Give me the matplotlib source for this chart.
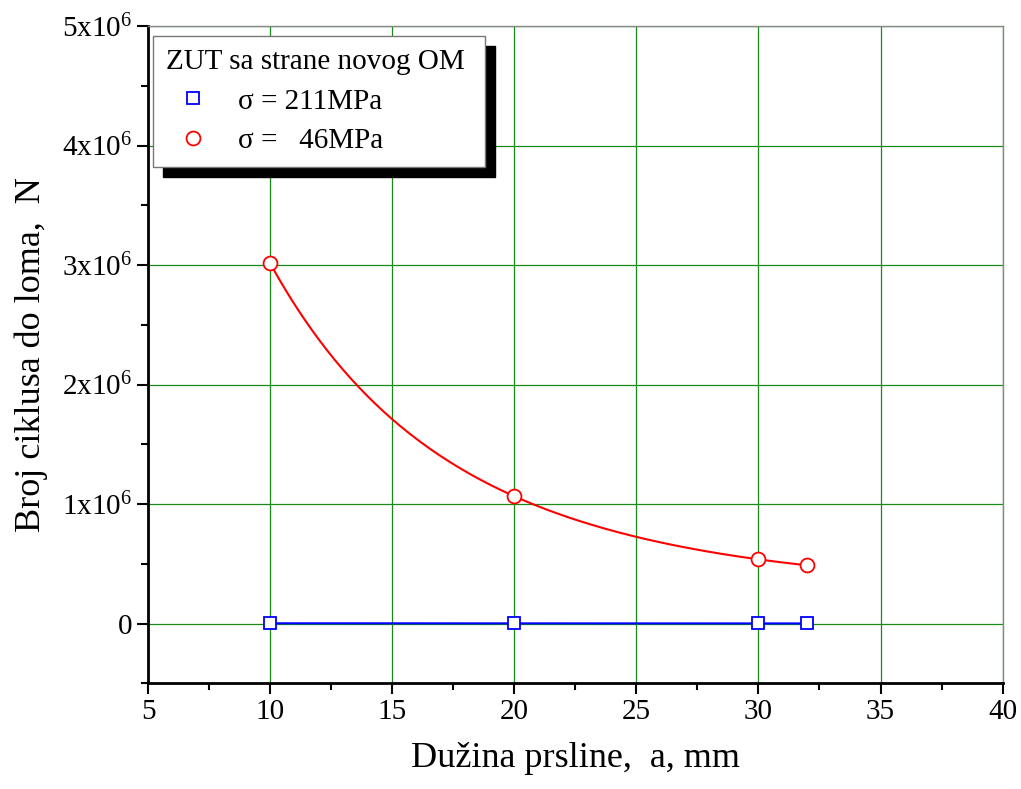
import numpy as np
import matplotlib.pyplot as plt
from matplotlib.ticker import MultipleLocator, FuncFormatter

plt.rcParams['font.family'] = ['Liberation Serif', 'DejaVu Serif']
plt.rcParams['mathtext.fontset'] = 'custom'
plt.rcParams['mathtext.rm'] = 'Liberation Serif'

# crack length, mm
a_mm = [10, 20, 30, 32]
# cycles to failure
n_211 = [2.0e3, 1.5e3, 1.0e3, 0.9e3]
n_46 = [3.015e6, 1.065e6, 0.537e6, 0.487e6]

legend_title = "ZUT sa strane novog OM "
labels = ["σ = 211MPa", "σ =   46MPa"]


def fmt_y(v, pos):
    if abs(v) < 1:
        return "0"
    k = int(round(v / 1e6))
    return r"$\mathregular{%dx10^{6}}$" % k


fig, ax = plt.subplots(figsize=(10.21, 7.89), dpi=100)
fig.subplots_adjust(left=0.145, right=0.982, top=0.967, bottom=0.134)

# smooth curve through the red points (log-space cubic)
coef = np.polyfit(a_mm, np.log(n_46), 3)
xs = np.linspace(min(a_mm), max(a_mm), 200)
ax.plot(xs, np.exp(np.polyval(coef, xs)), color='red', lw=1.5, zorder=3)
ax.plot(a_mm, n_211, color='blue', lw=1.5, zorder=3)

h1, = ax.plot(a_mm, n_211, ls='none', marker='s', ms=9, mfc='white',
              mec='blue', mew=1.3, zorder=4)
h2, = ax.plot(a_mm, n_46, ls='none', marker='o', ms=10, mfc='white',
              mec='red', mew=1.3, zorder=4)

ax.set_xlim(5, 40)
ax.set_ylim(-0.5e6, 5e6)
ax.xaxis.set_major_locator(MultipleLocator(5))
ax.xaxis.set_minor_locator(MultipleLocator(2.5))
ax.yaxis.set_major_locator(MultipleLocator(1e6))
ax.yaxis.set_minor_locator(MultipleLocator(0.5e6))
ax.yaxis.set_major_formatter(FuncFormatter(fmt_y))

ax.grid(True, which='major', color='#1a8a1a', lw=0.9)
ax.set_axisbelow(True)

for s in ['left', 'bottom']:
    ax.spines[s].set_linewidth(2)
    ax.spines[s].set_color('black')
for s in ['top', 'right']:
    ax.spines[s].set_linewidth(1)
    ax.spines[s].set_color('#888888')

ax.tick_params(which='major', direction='out', length=8, width=1.5,
               labelsize=21, top=False, right=False)
ax.tick_params(which='minor', direction='out', length=5, width=1.5,
               top=False, right=False)

ax.set_xlabel("Dužina prsline,  a, mm", fontsize=26, labelpad=12)
ax.set_ylabel("Broj ciklusa do loma,  N", fontsize=26, labelpad=10)

leg = ax.legend([h1, h2], labels, title=legend_title, loc='upper left',
                bbox_to_anchor=(0.006, 0.985), borderaxespad=0,
                fontsize=21, title_fontsize=21, fancybox=False,
                framealpha=1, edgecolor='#777777', borderpad=0.45,
                handletextpad=0.65, labelspacing=0.45, handlelength=1.8,
                shadow={'ox': 7, 'oy': -7, 'facecolor': 'black',
                        'edgecolor': 'black', 'alpha': 1})
leg._legend_box.align = "left"
leg.get_frame().set_linewidth(1)

fig.savefig("out.png", dpi=100)
